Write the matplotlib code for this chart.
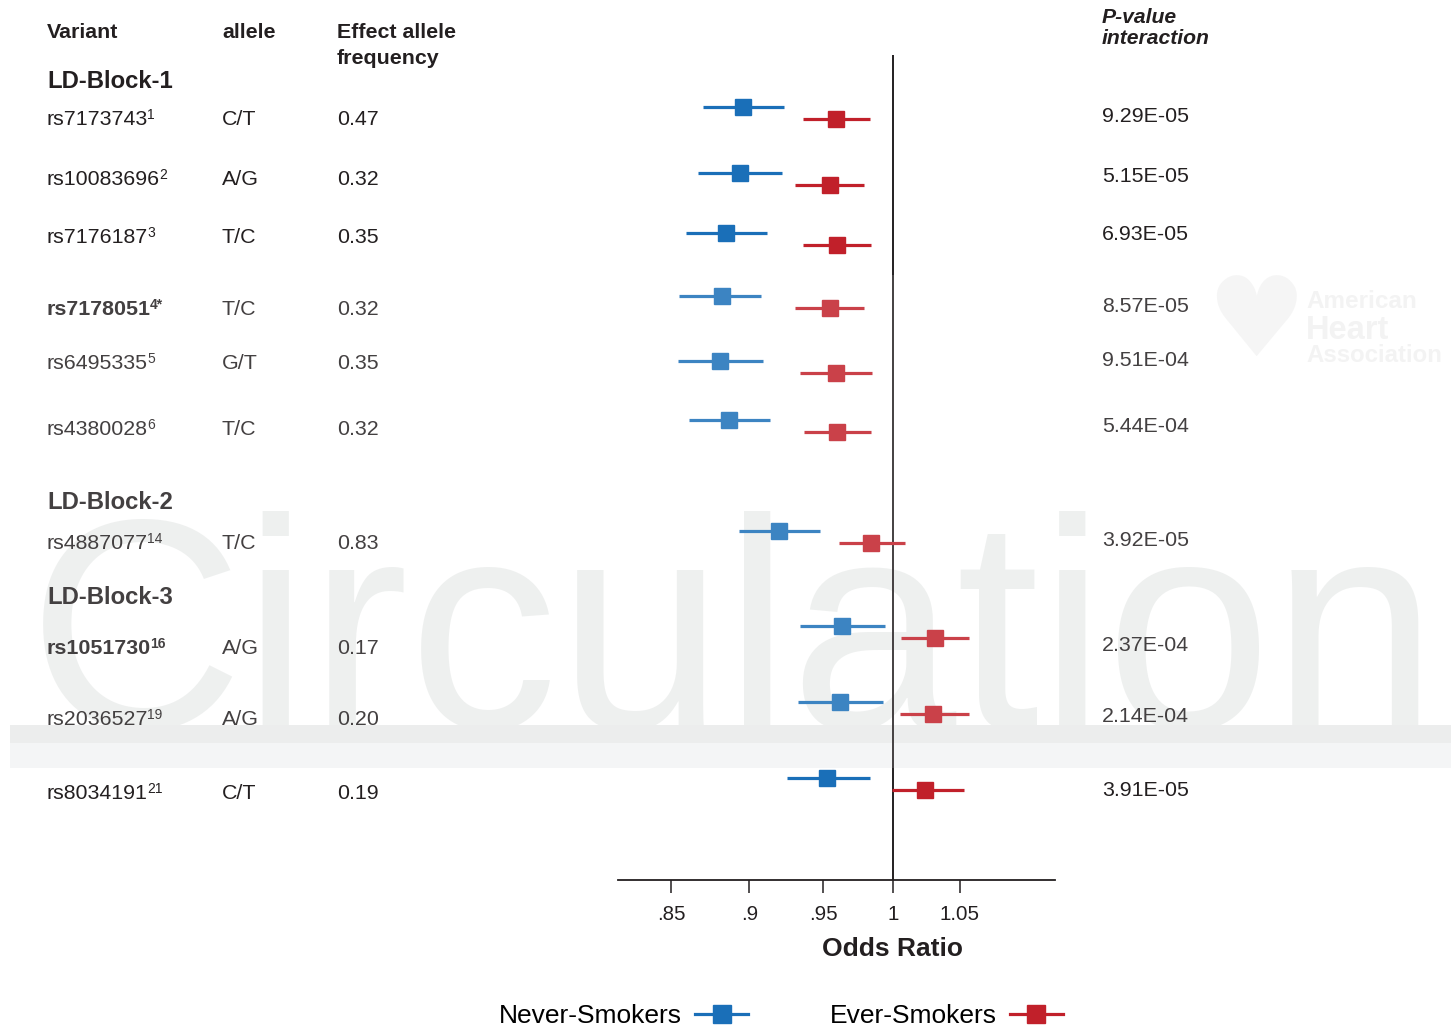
import matplotlib
matplotlib.use("Agg")
import matplotlib.pyplot as plt
from matplotlib.lines import Line2D
from matplotlib.patches import Rectangle

plt.rcParams["font.family"] = ["Liberation Sans", "DejaVu Sans"]

W, H = 1451, 1031
INK = "#231f20"

# ---- data ----
variants = ["rs7173743", "rs10083696", "rs7176187", "rs7178051", "rs6495335",
            "rs4380028", "rs4887077", "rs1051730", "rs2036527", "rs8034191"]
refs = ["1", "2", "3", "4*", "5", "6", "14", "16", "19", "21"]
bold_variants = ["rs7178051", "rs1051730"]
alleles = ["C/T", "A/G", "T/C", "T/C", "G/T", "T/C", "T/C", "A/G", "A/G", "C/T"]
freqs = ["0.47", "0.32", "0.35", "0.32", "0.35", "0.32", "0.83", "0.17", "0.20", "0.19"]
p_values = ["9.29E-05", "5.15E-05", "6.93E-05", "8.57E-05", "9.51E-04",
            "5.44E-04", "3.92E-05", "2.37E-04", "2.14E-04", "3.91E-05"]
blocks = ["LD-Block-1", "LD-Block-2", "LD-Block-3"]

never_or = [0.896, 0.894, 0.885, 0.882, 0.881, 0.887, 0.920, 0.963, 0.962, 0.953]
never_lo = [0.870, 0.867, 0.859, 0.855, 0.854, 0.861, 0.893, 0.934, 0.933, 0.925]
never_hi = [0.923, 0.922, 0.912, 0.908, 0.909, 0.914, 0.948, 0.994, 0.993, 0.983]

ever_or = [0.959, 0.955, 0.960, 0.955, 0.959, 0.960, 0.984, 1.031, 1.030, 1.024]
ever_lo = [0.936, 0.931, 0.936, 0.931, 0.934, 0.937, 0.961, 1.006, 1.005, 0.999]
ever_hi = [0.983, 0.979, 0.984, 0.979, 0.985, 0.984, 1.009, 1.057, 1.057, 1.053]

xticks = [0.85, 0.9, 0.95, 1.0, 1.05]
xtick_labels = [".85", ".9", ".95", "1", "1.05"]

# ---- layout (pixel rows) ----
row_y = [113, 179, 239, 302, 367, 426, 537, 632, 708, 784]
label_y = [117, 177, 235, 307, 361, 427, 541, 646, 717, 791]
pval_y = [114, 174, 232, 304, 358, 424, 538, 643, 714, 788]
block_y = [79, 500, 595]
COL_VAR, COL_ALLELE, COL_FREQ, COL_P = 47, 222, 337, 1102
BLUE, RED = "#1a6fb8", "#c1202a"

fig = plt.figure(figsize=(W / 100, H / 100), dpi=100)
fig.patch.set_facecolor("white")

# full-figure canvas for the table text, in pixel coordinates
canvas = fig.add_axes([0, 0, 1, 1], zorder=-1)
canvas.set_xlim(0, W)
canvas.set_ylim(H, 0)
canvas.axis("off")

# journal watermark behind everything
canvas.text(28, 728, "Circulation", fontsize=215, color="#eceeed",
            va="baseline", ha="left", zorder=0)
canvas.add_patch(Rectangle((10, 725), W - 10, 18, color="#e9ebea", lw=0, zorder=0.5))
canvas.add_patch(Rectangle((10, 743), W - 10, 25, color="#f3f4f5", lw=0, zorder=0.5))
canvas.text(1256, 326, "\u2665", fontsize=80, color="#f4f4f4", ha="center",
            va="center", family="DejaVu Sans", zorder=0)
canvas.text(1306, 308, "American", fontsize=17.5, weight="bold", color="#f2f2f2", zorder=0)
canvas.text(1306, 339, "Heart", fontsize=23.5, weight="bold", color="#f2f2f2", zorder=0)
canvas.text(1306, 362, "Association", fontsize=17.3, weight="bold", color="#f2f2f2", zorder=0)

renderer = fig.canvas.get_renderer()


def put(x, y, s, size=15.4, **kw):
    # y is the visual middle of the capitals
    px = size * 100 / 72
    return canvas.text(x, y + 0.36 * px, s, fontsize=size, color=INK,
                       va="baseline", ha=kw.pop("ha", "left"), **kw)


def put_sup(x, y, s, sup, weight="normal"):
    t = put(x, y, s, weight=weight)
    bb = t.get_window_extent(renderer)
    x1 = canvas.transData.inverted().transform((bb.x1, bb.y0))[0]
    canvas.text(x1 - 1, y + 0.36 * 21.4 - 5.5, sup, fontsize=10, color=INK,
                weight=weight, va="baseline", ha="left")


# column headers
put(COL_VAR, 30, "Variant", weight="bold")
put(COL_ALLELE, 30, "allele", weight="bold")
put(COL_FREQ, 30, "Effect allele", weight="bold")
put(COL_FREQ, 56, "frequency", weight="bold")
put(COL_P, 15, "P-value", size=15.2, weight="bold", style="italic")
put(COL_P, 36, "interaction", size=15.2, weight="bold", style="italic")

for name, by in zip(blocks, block_y):
    put(COL_VAR, by, name, size=17.2, weight="bold")

for i, v in enumerate(variants):
    w = "bold" if v in bold_variants else "normal"
    put_sup(COL_VAR, label_y[i], v, refs[i], weight=w)
    put(COL_ALLELE, label_y[i], alleles[i])
    put(COL_FREQ, label_y[i], freqs[i])
    put(COL_P, pval_y[i], p_values[i])

# ---- forest plot ----
ax = fig.add_axes([618 / W, (H - 880) / H, 437 / W, 825 / H], zorder=1)
ax.patch.set_alpha(0)
ax.set_xscale("log")
ax.set_xlim(0.8175, 1.126)
ax.set_ylim(880, 55)

yb = [y - 6 for y in row_y]
yr = [y + 6 for y in row_y]
ax.errorbar(never_or, yb,
            xerr=[[o - l for o, l in zip(never_or, never_lo)],
                  [h - o for o, h in zip(never_or, never_hi)]],
            fmt="s", color=BLUE, ms=11.5, elinewidth=2.3, capsize=0, zorder=3)
ax.errorbar(ever_or, yr,
            xerr=[[o - l for o, l in zip(ever_or, ever_lo)],
                  [h - o for o, h in zip(ever_or, ever_hi)]],
            fmt="s", color=RED, ms=11.5, elinewidth=2.3, capsize=0, zorder=3)
ax.axvline(1.0, color=INK, lw=1.4, zorder=2)

for side in ("top", "right", "left"):
    ax.spines[side].set_visible(False)
ax.spines["bottom"].set_linewidth(1.3)
ax.spines["bottom"].set_color(INK)
ax.set_yticks([])
ax.xaxis.set_minor_locator(matplotlib.ticker.NullLocator())
ax.set_xticks(xticks)
ax.set_xticklabels(xtick_labels)
ax.tick_params(axis="x", direction="out", length=9.5, width=1.1, color=INK,
               labelsize=14.8, labelcolor=INK, pad=8.5)

put(892, 946, "Odds Ratio", size=19, weight="bold", ha="center")

# legend with the label ahead of the key
handles = [Line2D([], [], color=BLUE, lw=2.3, marker="s", ms=12.5),
           Line2D([], [], color=RED, lw=2.3, marker="s", ms=12.5)]
fig.legend(handles, ["Never-Smokers", "Ever-Smokers"], ncol=2, markerfirst=False,
           frameon=False, fontsize=19, handlelength=2.0, handletextpad=0.5,
           columnspacing=3.1, numpoints=1, loc="center",
           bbox_to_anchor=((493 + 1069) / 2 / W, 1 - 1016 / H))

# translucent layer of the watermark block
fig.add_artist(Rectangle((10, 275), W - 10, 493, transform=canvas.transData,
                         facecolor="white", alpha=0.15, lw=0, zorder=5))

fig.savefig("out.png", dpi=100)
